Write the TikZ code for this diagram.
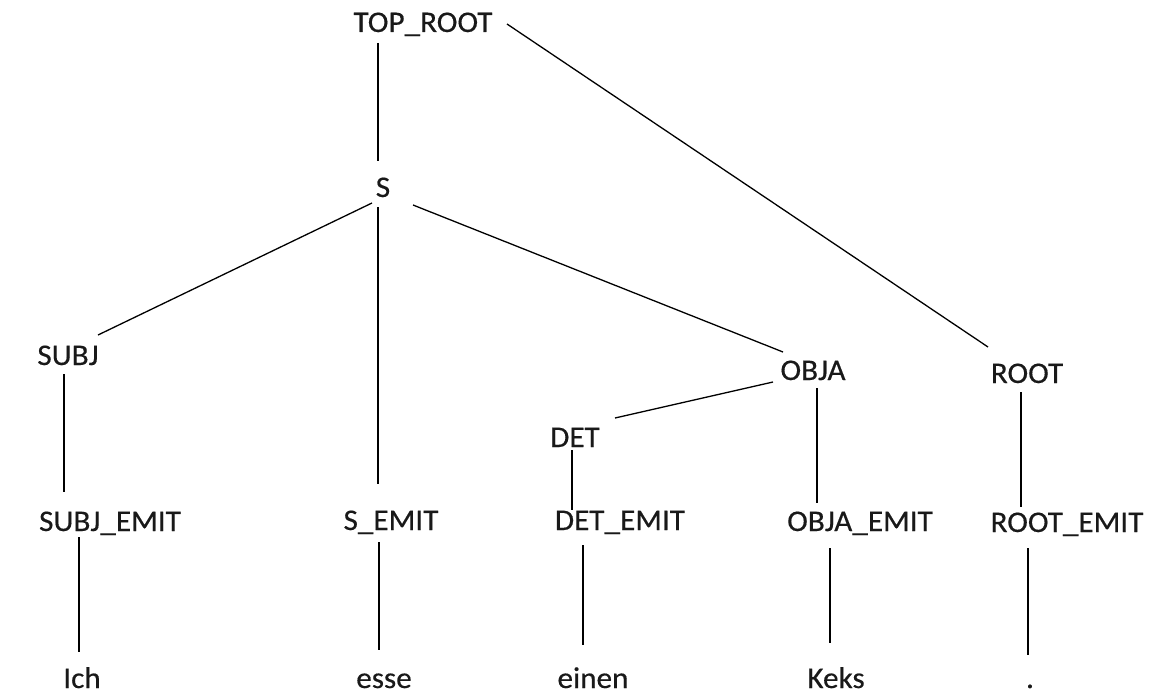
\documentclass[tikz,border=0pt]{standalone}
\usepackage{fontspec}
\setmainfont{Carlito}[FakeStretch=1.04,FakeBold=0.4]
\usetikzlibrary{calc}
\begin{document}
\begin{tikzpicture}[x=1pt,y=-1pt,
  lab/.style={anchor=base,inner sep=0pt,font=\fontsize{30}{30}\selectfont,text=black!90},
  edge/.style={draw=black,line width=1.3pt}]
\useasboundingbox[fill=white] (0,0) rectangle (1169,693);
% nodes
\node[lab] (toproot) at (423,32) {TOP\_ROOT};
\node[lab] (s) at (383,197) {S};
\node[lab] (subj) at (68,365) {SUBJ};
\node[lab] (obja) at (813,380) {OBJA};
\node[lab] (root) at (1027,383) {ROOT};
\node[lab] (det) at (575,447) {DET};
\node[lab] (subjemit) at (110,531) {SUBJ\_EMIT};
\node[lab] (semit) at (391,530) {S\_EMIT};
\node[lab] (detemit) at (620,530) {DET\_EMIT};
\node[lab] (objaemit) at (860,531) {OBJA\_EMIT};
\node[lab] (rootemit) at (1067,532) {ROOT\_EMIT};
\node[lab] (ich) at (82,688) {Ich};
\node[lab] (esse) at (384,688) {esse};
\node[lab] (einen) at (593,688) {einen};
\node[lab] (keks) at (836,688) {Keks};
\node[lab] (dot) at (1030,688) {.};
% connectors
\draw[edge] ($(toproot.base)+(-45,11)$) -- ($(s.base)+(-5,-36)$);
\draw[edge] ($(toproot.base)+(84,-8)$) -- ($(root.base)+(-39,-36)$);
\draw[edge] ($(s.base)+(-11,6)$) -- ($(subj.base)+(30,-30)$);
\draw[edge] ($(s.base)+(-5,10)$) -- ($(semit.base)+(-13,-46)$);
\draw[edge] ($(s.base)+(30,8)$) -- ($(obja.base)+(-30,-28)$);
\draw[edge] ($(subj.base)+(-4,9)$) -- ($(subjemit.base)+(-46,-39)$);
\draw[edge] ($(obja.base)+(-40,2)$) -- ($(det.base)+(40,-29)$);
\draw[edge] ($(obja.base)+(4,8)$) -- ($(objaemit.base)+(-43,-28)$);
\draw[edge] ($(root.base)+(-6,9)$) -- ($(rootemit.base)+(-46,-25)$);
\draw[edge] ($(det.base)+(-3,3)$) -- ($(detemit.base)+(-48,-20)$);
\draw[edge] ($(subjemit.base)+(-31,6)$) -- ($(ich.base)+(-3,-36)$);
\draw[edge] ($(semit.base)+(-12,12)$) -- ($(esse.base)+(-5,-38)$);
\draw[edge] ($(detemit.base)+(-37,15)$) -- ($(einen.base)+(-10,-43)$);
\draw[edge] ($(objaemit.base)+(-30,17)$) -- ($(keks.base)+(-6,-45)$);
\draw[edge] ($(rootemit.base)+(-39,16)$) -- ($(dot.base)+(-2,-33)$);
\end{tikzpicture}
\end{document}
